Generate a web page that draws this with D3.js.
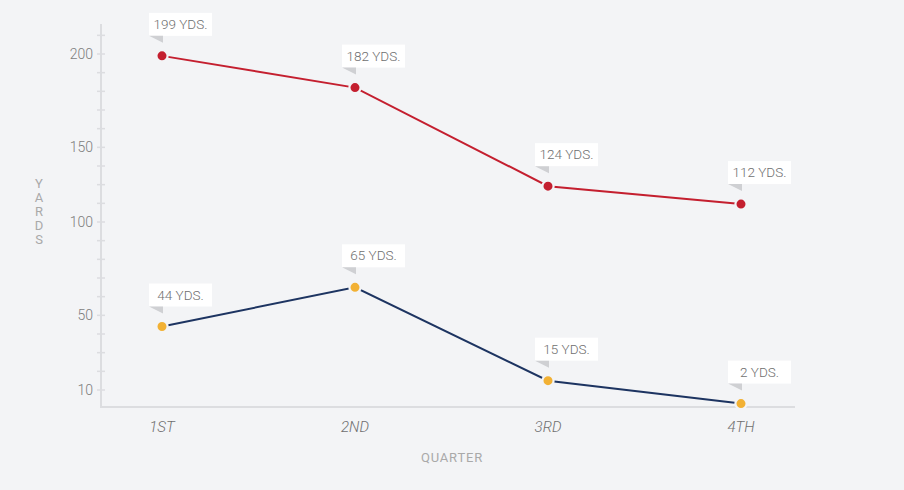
<!DOCTYPE html>
<html>
<head>
<meta charset="utf-8">
<script src="https://cdn.jsdelivr.net/npm/d3@7"></script>
<style>
  html, body { margin: 0; padding: 0; background: #f3f4f6; }
  svg { display: block; }
  text { font-family: Roboto, "Liberation Sans", sans-serif; }
</style>
</head>
<body>
<svg id="chart" width="904" height="490"></svg>
<script>
// ---- data ----
const quarters = ["1ST", "2ND", "3RD", "4TH"];
const seriesTop = [199, 182, 124, 112];
const seriesBottom = [44, 65, 15, 2];
const yTickValues = [200, 150, 100, 50, 10];
const yTickLabels = ["200", "150", "100", "50", "10"];
const xTitle = "QUARTER";
const yTitle = "YARDS";
const unitSuffix = " YDS.";

// ---- layout ----
const W = 904, H = 490;
const axisX = 101, baselineY = 407, axisTop = 24, axisRight = 795;
const tickTop = 54, tickStep = (390 - 54) / 18;

const svg = d3.select("#chart");
svg.append("rect").attr("width", W).attr("height", H).attr("fill", "#f3f4f6");

const x = d3.scalePoint().domain(quarters).range([162, 741]);
// the reference axis places its labels on an evenly spaced tick grid
const y = d3.scaleLinear()
  .domain([0, 10, 50, 100, 150, 200])
  .range([baselineY, tickTop + 18 * tickStep, tickTop + 14 * tickStep, tickTop + 9 * tickStep, tickTop + 5 * tickStep, tickTop]);

const axisColor = "#dcdde0";

// y axis line
svg.append("line")
  .attr("x1", axisX).attr("x2", axisX)
  .attr("y1", axisTop).attr("y2", baselineY)
  .attr("stroke", axisColor).attr("stroke-width", 2);

// minor ticks (evenly spaced grid)
const minorIdx = d3.range(-1, 19);
svg.append("g").selectAll("line").data(minorIdx).join("line")
  .attr("x1", axisX - 4).attr("x2", axisX + 4)
  .attr("y1", d => tickTop + d * tickStep).attr("y2", d => tickTop + d * tickStep)
  .attr("stroke", axisColor).attr("stroke-width", 1.5);

// y tick labels
svg.append("g").selectAll("text").data(yTickValues).join("text")
  .attr("x", axisX - 8).attr("y", d => y(d))
  .attr("dy", "0.35em")
  .attr("text-anchor", "end")
  .attr("font-size", 14).attr("font-weight", 300)
  .attr("fill", "#7d7d7d")
  .text((d, i) => yTickLabels[i]);

// x axis line
svg.append("line")
  .attr("x1", axisX - 1).attr("x2", axisRight)
  .attr("y1", baselineY).attr("y2", baselineY)
  .attr("stroke", axisColor).attr("stroke-width", 2);

// x labels
svg.append("g").selectAll("text").data(quarters).join("text")
  .attr("x", d => x(d)).attr("y", 432)
  .attr("text-anchor", "middle")
  .attr("font-size", 15).attr("font-style", "italic").attr("font-weight", 300)
  .attr("fill", "#6f6f6f")
  .text(d => d);

// axis titles
svg.append("text")
  .attr("x", 452).attr("y", 462)
  .attr("text-anchor", "middle")
  .attr("font-size", 13).attr("letter-spacing", 0.8)
  .attr("fill", "#a9a9a9")
  .text(xTitle);

svg.append("g").selectAll("text").data(yTitle.split("")).join("text")
  .attr("x", 39).attr("y", (d, i) => 188 + i * 14)
  .attr("text-anchor", "middle")
  .attr("font-size", 13)
  .attr("fill", "#a9a9a9")
  .text(d => d);

// ---- series ----
const series = [
  { values: seriesTop, line: "#c41f2f", dot: "#c41f2f" },
  { values: seriesBottom, line: "#1d3461", dot: "#f2b134" }
];

const lineGen = d3.line().x((d, i) => x(quarters[i])).y(d => y(d));

series.forEach(s => {
  svg.append("path")
    .attr("d", lineGen(s.values))
    .attr("fill", "none")
    .attr("stroke", s.line).attr("stroke-width", 2);
});

series.forEach(s => {
  svg.append("g").selectAll("circle").data(s.values).join("circle")
    .attr("cx", (d, i) => x(quarters[i])).attr("cy", d => y(d))
    .attr("r", 5.6)
    .attr("fill", s.dot)
    .attr("stroke", "#f3f4f6").attr("stroke-width", 2.2);
});

// value labels
const boxW = 63, boxH = 23;
series.forEach(s => {
  const g = svg.append("g").selectAll("g").data(s.values).join("g")
    .attr("transform", (d, i) => `translate(${x(quarters[i]) - 13},${y(d) - 43})`);
  g.append("rect")
    .attr("width", boxW).attr("height", boxH)
    .attr("fill", "#ffffff");
  g.append("path")
    .attr("d", `M0,${boxH} L14,${boxH} L14,${boxH + 7} Z`)
    .attr("fill", "#cfd0d3");
  g.append("text")
    .attr("x", boxW / 2).attr("y", 16)
    .attr("text-anchor", "middle")
    .attr("font-size", 13.5).attr("font-weight", 300)
    .attr("fill", "#6f6f6f")
    .text(d => d + unitSuffix);
});
</script>
</body>
</html>
